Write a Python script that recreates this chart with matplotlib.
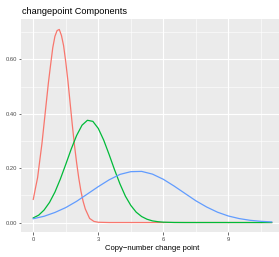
import matplotlib
matplotlib.use("Agg")
import matplotlib.pyplot as plt

plt.rcParams["font.family"] = ["Liberation Sans", "DejaVu Sans"]

# component densities
red_x = [0.0, 0.1, 0.2, 0.3, 0.4, 0.5, 0.6, 0.7, 0.8, 0.9, 1.0, 1.1, 1.2, 1.3, 1.4, 1.5,
         1.6, 1.7, 1.8, 1.9, 2.0, 2.1, 2.2, 2.3, 2.4, 2.6, 2.8, 3.0, 3.5,
         4.0, 5.0, 6.0, 7.0, 8.0, 9.0, 10.0, 11.0]
red_y = [0.085, 0.126, 0.165, 0.228, 0.29, 0.365, 0.44, 0.515, 0.58, 0.643, 0.685, 0.706,
         0.71, 0.688, 0.65, 0.59, 0.52, 0.44, 0.36, 0.285, 0.22, 0.163, 0.115, 0.078, 0.05,
         0.015, 0.004, 0.001, 0.0, 0.0, 0.0, 0.0, 0.0, 0.0, 0.0, 0.0, 0.0]

green_x = [0.0, 0.25, 0.5, 0.75, 1.0, 1.25, 1.5, 1.75, 2.0, 2.25, 2.5, 2.75, 3.0, 3.25, 3.5,
           3.75, 4.0, 4.25, 4.5, 4.75, 5.0, 5.25, 5.5, 5.75, 6.0, 6.5, 7.0, 8.0, 9.0, 10.0, 11.0]
green_y = [0.017, 0.027, 0.046, 0.074, 0.112, 0.16, 0.214, 0.27, 0.32, 0.358, 0.376, 0.372,
           0.346, 0.303, 0.25, 0.194, 0.142, 0.097, 0.063, 0.038, 0.022, 0.012, 0.006, 0.003,
           0.0013, 0.0002, 0.0, 0.0, 0.0, 0.0, 0.0]

blue_x = [0.0, 0.5, 1.0, 1.5, 2.0, 2.5, 3.0, 3.5, 4.0, 4.5, 5.0, 5.5, 6.0, 6.5, 7.0, 7.5,
          8.0, 8.5, 9.0, 9.5, 10.0, 10.5, 11.0]
blue_y = [0.014, 0.023, 0.037, 0.055, 0.078, 0.105, 0.132, 0.157, 0.177, 0.187, 0.188, 0.178,
          0.159, 0.134, 0.107, 0.08, 0.057, 0.038, 0.024, 0.0145, 0.0082, 0.0044, 0.0022]

x_ticks = [0, 3, 6, 9]
y_ticks = [0.0, 0.2, 0.4, 0.6]

fig = plt.figure(figsize=(2.79, 2.57), dpi=100)
ax = fig.add_axes([0.0765, 0.0965, 0.94, 0.828])
ax.set_facecolor("#EBEBEB")
for s in ax.spines.values():
    s.set_visible(False)

ax.set_xlim(-0.55, 11.55)
ax.set_ylim(-0.0356, 0.747)

# ggplot-like grid
for v in [1.5, 4.5, 7.5, 10.5]:
    ax.axvline(v, color="white", lw=0.4, zorder=0)
for v in [0.1, 0.3, 0.5, 0.7]:
    ax.axhline(v, color="white", lw=0.4, zorder=0)
for v in x_ticks:
    ax.axvline(v, color="white", lw=0.8, zorder=0)
for v in y_ticks:
    ax.axhline(v, color="white", lw=0.8, zorder=0)

ax.plot(red_x, red_y, color="#F8766D", lw=0.9, zorder=2)
ax.plot(green_x, green_y, color="#00BA38", lw=0.9, zorder=3)
ax.plot(blue_x, blue_y, color="#619CFF", lw=0.9, zorder=4)

ax.set_xticks(x_ticks)
ax.set_xticklabels([str(t) for t in x_ticks])
ax.set_yticks(y_ticks)
ax.set_yticklabels(["%.2f" % t for t in y_ticks])
ax.tick_params(axis="both", length=1.8, width=0.5, color="#333333",
               labelsize=4.2, labelcolor="#4D4D4D", pad=1.5)

ax.set_xlabel("Copy\u2212number change point", fontsize=5.5, color="black", labelpad=2)
fig.text(0.079, 0.957, "changepoint Components", fontsize=6.6, color="black",
         ha="left", va="center")

fig.savefig("out.png", dpi=100)
